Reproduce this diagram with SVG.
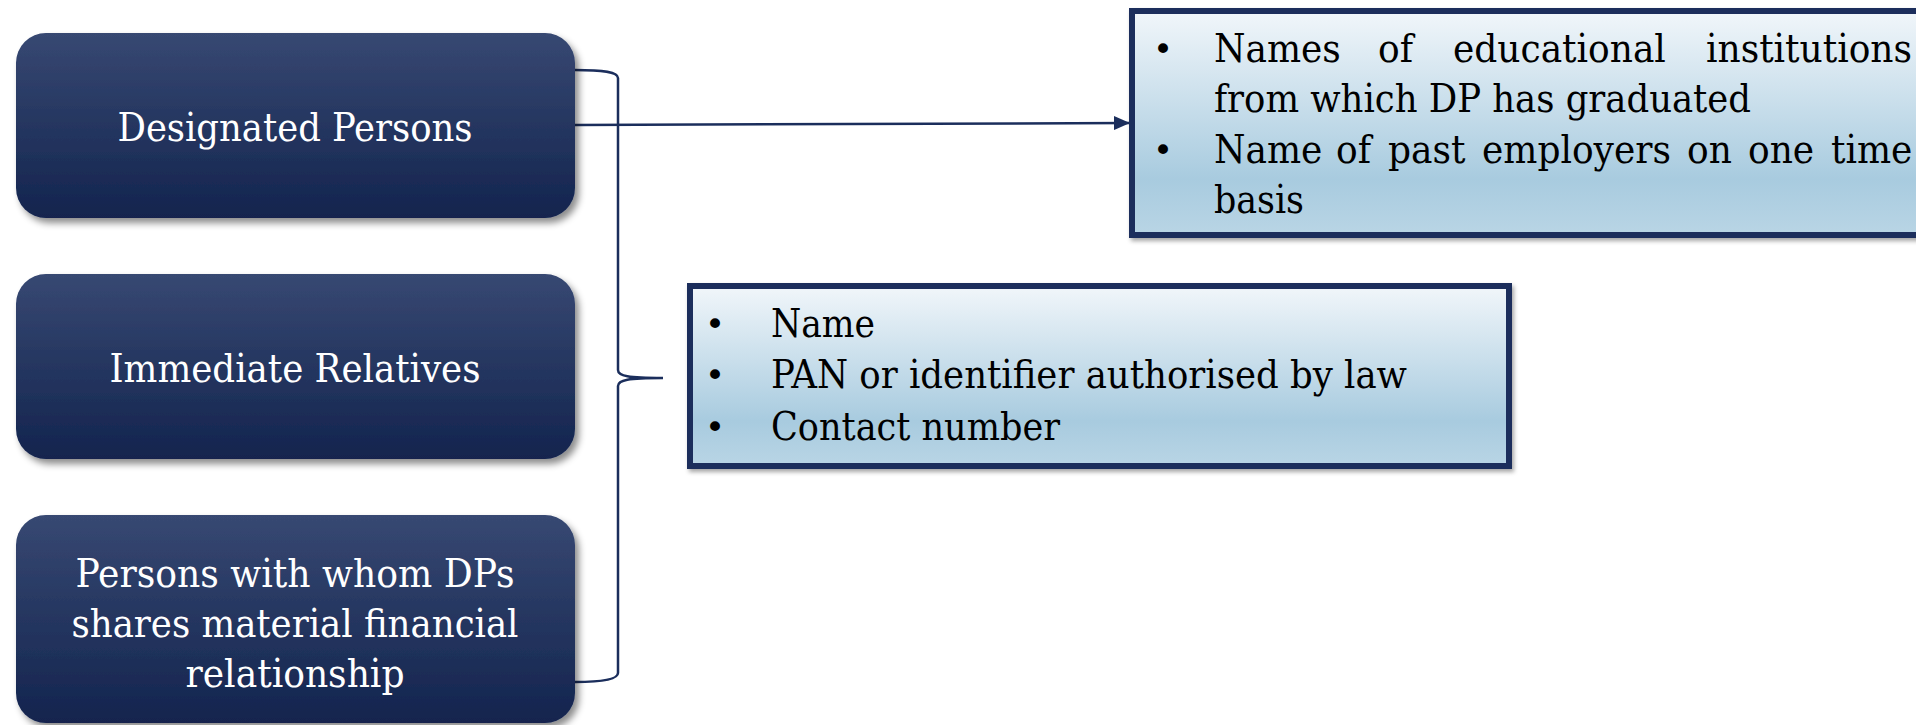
<svg xmlns="http://www.w3.org/2000/svg" width="1916" height="725" viewBox="0 0 1916 725">
<defs>
<linearGradient id="navy" x1="0" y1="0" x2="0" y2="1">
<stop offset="0" stop-color="#374872"/>
<stop offset="1" stop-color="#13244e"/>
</linearGradient>
<linearGradient id="pale" x1="0" y1="0" x2="0" y2="1">
<stop offset="0" stop-color="#f1f6fa"/>
<stop offset="0.75" stop-color="#a8cbdf"/>
<stop offset="1" stop-color="#b9d5e5"/>
</linearGradient>
<filter id="shadow" x="-10%" y="-10%" width="125%" height="130%">
<feDropShadow dx="4" dy="5" stdDeviation="3.5" flood-color="#000" flood-opacity="0.45"/>
</filter>
<filter id="shadow2" x="-5%" y="-10%" width="115%" height="130%">
<feDropShadow dx="2" dy="3" stdDeviation="2" flood-color="#000" flood-opacity="0.35"/>
</filter>
<marker id="arrow" markerWidth="16" markerHeight="14" refX="15" refY="7" orient="auto" markerUnits="userSpaceOnUse">
<path d="M0,0 L16,7 L0,14 Z" fill="#1b2e5c"/>
</marker>
</defs>
<style>
.node{fill:url(#navy);filter:url(#shadow);}
.ntext{font-family:"DejaVu Serif Condensed","DejaVu Serif","Liberation Serif",serif;font-size:40px;fill:#ffffff;text-anchor:middle;}
.box{fill:url(#pale);stroke:#1b2e5c;stroke-width:6;filter:url(#shadow2);}
.btext{font-family:"DejaVu Serif Condensed","DejaVu Serif","Liberation Serif",serif;font-size:40px;fill:#000000;}
.bullet{font-family:"DejaVu Sans","Liberation Sans",sans-serif;font-size:34px;fill:#000000;text-anchor:middle;}
.conn{fill:none;stroke:#1b2e5c;stroke-width:2.5;}
</style>

<g id="connectors">
<path class="conn" d="M575,70 C604,70 618,72 618,78 V370 C618,376 628,378 663,378 M663,378 C628,378 618,380 618,386 V673 C618,679 604,682 575,682"/>
<path class="conn" d="M575,125 L1129,123" stroke-width="3" marker-end="url(#arrow)"/>
</g>

<g id="node-designated">
<rect class="node" x="16" y="33" width="559" height="185" rx="30"/>
<text class="ntext" x="295" y="141" textLength="355" lengthAdjust="spacingAndGlyphs">Designated Persons</text>
</g>

<g id="node-relatives">
<rect class="node" x="16" y="274" width="559" height="185" rx="30"/>
<text class="ntext" x="295" y="382" textLength="371" lengthAdjust="spacingAndGlyphs">Immediate Relatives</text>
</g>

<g id="node-persons">
<rect class="node" x="16" y="515" width="559" height="208" rx="30"/>
<text class="ntext" x="295" y="587" textLength="439" lengthAdjust="spacingAndGlyphs">Persons with whom DPs</text>
<text class="ntext" x="295" y="637" textLength="447" lengthAdjust="spacingAndGlyphs">shares material financial</text>
<text class="ntext" x="295" y="687" textLength="219" lengthAdjust="spacingAndGlyphs">relationship</text>
</g>

<g id="box-education">
<rect class="box" x="1132" y="11" width="800" height="224"/>
<text class="bullet" x="1163" y="61">•</text>
<text class="btext" y="62"><tspan x="1214">Names</tspan><tspan x="1378">of</tspan><tspan x="1453">educational</tspan><tspan x="1706">institutions</tspan></text>
<text class="btext" x="1214" y="112" textLength="537" lengthAdjust="spacingAndGlyphs">from which DP has graduated</text>
<text class="bullet" x="1163" y="162">•</text>
<text class="btext" y="163"><tspan x="1214">Name</tspan><tspan x="1336">of</tspan><tspan x="1388">past</tspan><tspan x="1482">employers</tspan><tspan x="1687">on</tspan><tspan x="1748">one</tspan><tspan x="1831">time</tspan></text>
<text class="btext" x="1214" y="213" textLength="90" lengthAdjust="spacingAndGlyphs">basis</text>
</g>

<g id="box-identity">
<rect class="box" x="690" y="286" width="819" height="180"/>
<text class="bullet" x="715" y="336">•</text>
<text class="btext" x="771" y="337" textLength="104" lengthAdjust="spacingAndGlyphs">Name</text>
<text class="bullet" x="715" y="387">•</text>
<text class="btext" x="771" y="388" textLength="636" lengthAdjust="spacingAndGlyphs">PAN or identifier authorised by law</text>
<text class="bullet" x="715" y="439">•</text>
<text class="btext" x="771" y="440" textLength="289" lengthAdjust="spacingAndGlyphs">Contact number</text>
</g>
</svg>
